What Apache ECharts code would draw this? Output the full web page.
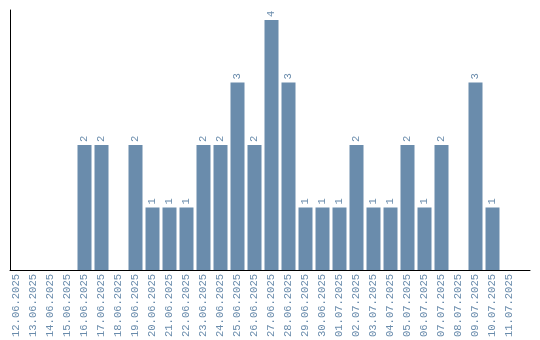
<!DOCTYPE html>
<html>
<head>
<meta charset="utf-8">
<script src="https://cdn.jsdelivr.net/npm/echarts@6/dist/echarts.min.js"></script>
<style>html,body{margin:0;padding:0;background:#fff}#c{width:540px;height:340px}</style>
</head>
<body>
<div id="c"></div>
<script>
const categories = ["12.06.2025","13.06.2025","14.06.2025","15.06.2025","16.06.2025","17.06.2025","18.06.2025","19.06.2025","20.06.2025","21.06.2025","22.06.2025","23.06.2025","24.06.2025","25.06.2025","26.06.2025","27.06.2025","28.06.2025","29.06.2025","30.06.2025","01.07.2025","02.07.2025","03.07.2025","04.07.2025","05.07.2025","06.07.2025","07.07.2025","08.07.2025","09.07.2025","10.07.2025","11.07.2025"];
const counts = [0,0,0,0,2,2,0,2,1,1,1,2,2,3,2,4,3,1,1,1,2,1,1,2,1,2,0,3,1,0];

const color = '#6a8cac';
const font = 'Liberation Mono';
const chart = echarts.init(document.getElementById('c'), null, {renderer: 'canvas'});
chart.setOption({
  animation: false,
  grid: [
    {left: 8, right: 22, top: 20, bottom: 70},
    {left: 10, right: 10, top: 10, bottom: 70}
  ],
  xAxis: [
    {type: 'category', gridIndex: 0, data: categories,
     axisLine: {show: false}, axisTick: {show: false},
     axisLabel: {rotate: 90, interval: 0, margin: 4, color: color, fontFamily: font, fontSize: 10.5}},
    {type: 'value', gridIndex: 1, min: 0, max: 1,
     axisLine: {show: true, onZero: false, lineStyle: {color: '#000', width: 1}},
     axisTick: {show: false}, axisLabel: {show: false}, splitLine: {show: false}}
  ],
  yAxis: [
    {type: 'value', gridIndex: 0, min: 0, max: 4,
     axisLine: {show: false}, axisTick: {show: false}, axisLabel: {show: false}, splitLine: {show: false}},
    {type: 'value', gridIndex: 1, min: 0, max: 1,
     axisLine: {show: true, onZero: false, lineStyle: {color: '#000', width: 1}},
     axisTick: {show: false}, axisLabel: {show: false}, splitLine: {show: false}}
  ],
  series: [{
    type: 'bar', xAxisIndex: 0, yAxisIndex: 0,
    data: counts.map(v => v === 0 ? {value: 0, label: {show: false}} : v),
    barWidth: 14,
    itemStyle: {color: color},
    label: {show: true, position: 'top', rotate: 90, align: 'left', verticalAlign: 'middle',
            distance: 3, color: color, fontFamily: font, fontSize: 10.5}
  }]
});
</script>
</body>
</html>
